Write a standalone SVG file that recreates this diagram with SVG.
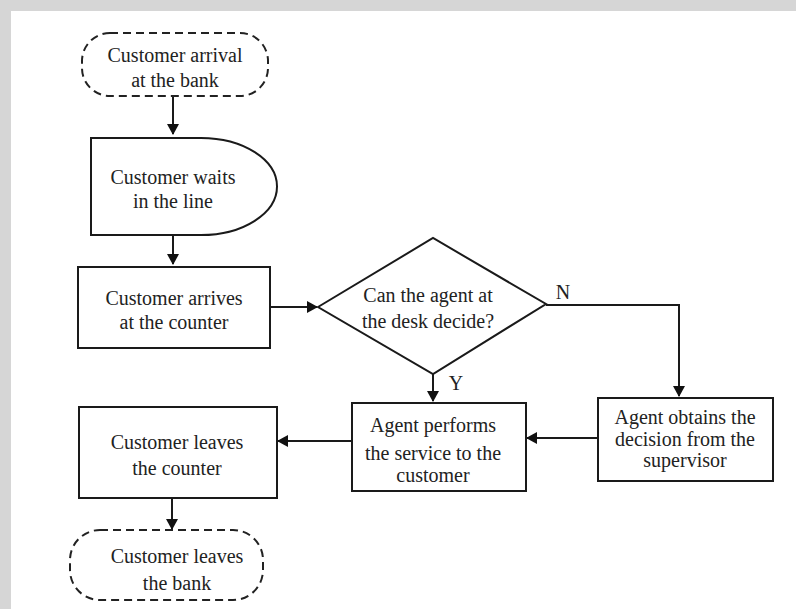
<svg xmlns="http://www.w3.org/2000/svg" width="796" height="609" viewBox="0 0 796 609">
<defs>
<style>
.t{font-family:"Liberation Serif","DejaVu Serif",serif;font-size:20px;fill:#222;text-anchor:middle}
.b{fill:#fff;stroke:#1a1a1a;stroke-width:2}
.d{fill:#fff;stroke:#222;stroke-width:2;stroke-dasharray:8 5}
.c{fill:none;stroke:#1a1a1a;stroke-width:2}
</style>
<marker id="ah" markerWidth="12" markerHeight="12" refX="10" refY="6" orient="auto" markerUnits="userSpaceOnUse">
<path d="M0,0 L11,6 L0,12 Z" fill="#111"/>
</marker>
</defs>
<rect x="0" y="0" width="796" height="609" fill="#d6d6d6"/>
<rect x="11" y="11" width="785" height="598" fill="#ffffff"/>

<g id="connectors">
<path class="c" d="M173,97 V134" marker-end="url(#ah)"/>
<path class="c" d="M173,235 V264" marker-end="url(#ah)"/>
<path class="c" d="M270,307 H317" marker-end="url(#ah)"/>
<path class="c" d="M546,305 H679 V396" marker-end="url(#ah)"/>
<path class="c" d="M433,374 V401" marker-end="url(#ah)"/>
<path class="c" d="M598,438 H527" marker-end="url(#ah)"/>
<path class="c" d="M352,441 H278" marker-end="url(#ah)"/>
<path class="c" d="M172,498 V529" marker-end="url(#ah)"/>
<text class="t" x="563" y="299">N</text>
<text class="t" x="456" y="390">Y</text>
</g>

<g id="start">
<rect class="d" x="82" y="33" width="186" height="63" rx="28"/>
<text class="t" x="175" y="62">Customer arrival</text>
<text class="t" x="175" y="87">at the bank</text>
</g>

<g id="wait">
<path class="b" d="M91,138 H201 A76,48.5 0 0 1 201,235 H91 Z"/>
<text class="t" x="173" y="184">Customer waits</text>
<text class="t" x="173" y="208">in the line</text>
</g>

<g id="arrives">
<rect class="b" x="78" y="267" width="192" height="81"/>
<text class="t" x="174" y="305">Customer arrives</text>
<text class="t" x="174" y="329">at the counter</text>
</g>

<g id="decision">
<path class="b" d="M318,307 L433,238 L546,304 L433,374 Z"/>
<text class="t" x="428" y="302">Can the agent at</text>
<text class="t" x="428" y="328">the desk decide?</text>
</g>

<g id="supervisor">
<rect class="b" x="598" y="398" width="175" height="83"/>
<text class="t" x="685" y="424">Agent obtains the</text>
<text class="t" x="685" y="446">decision from the</text>
<text class="t" x="685" y="467">supervisor</text>
</g>

<g id="perform">
<rect class="b" x="352" y="403" width="174" height="88"/>
<text class="t" x="433" y="432">Agent performs</text>
<text class="t" x="433" y="460">the service to the</text>
<text class="t" x="433" y="482">customer</text>
</g>

<g id="leaves-counter">
<rect class="b" x="79" y="407" width="198" height="91"/>
<text class="t" x="177" y="449">Customer leaves</text>
<text class="t" x="177" y="475">the counter</text>
</g>

<g id="end">
<rect class="d" x="70" y="530" width="193" height="70" rx="30"/>
<text class="t" x="177" y="563">Customer leaves</text>
<text class="t" x="177" y="590">the bank</text>
</g>
</svg>
